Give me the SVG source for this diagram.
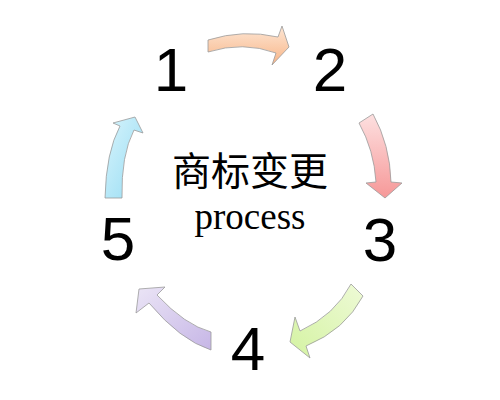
<svg xmlns="http://www.w3.org/2000/svg" width="500" height="400" viewBox="0 0 500 400">
<style>
.num{font-family:"Liberation Sans","DejaVu Sans",sans-serif;font-size:62px;fill:#000;text-anchor:middle}
.arrow{stroke:#9a9a9a;stroke-width:0.8;stroke-linejoin:round}
.cjk{font-family:"Noto Sans CJK SC","Noto Sans CJK JP",sans-serif;font-size:39px;fill:#000;text-anchor:middle}
.en{font-family:"Liberation Serif","DejaVu Serif",serif;font-size:37px;fill:#000;text-anchor:middle}
</style>
<defs>
<linearGradient id="gOrange" x1="0" y1="0" x2="0" y2="1"><stop offset="0" stop-color="#fde6d4"/><stop offset="1" stop-color="#f8b587"/></linearGradient>
<linearGradient id="gPink" x1="0" y1="0" x2="0" y2="1"><stop offset="0" stop-color="#fde0e0"/><stop offset="1" stop-color="#f69898"/></linearGradient>
<linearGradient id="gGreen" x1="1" y1="0" x2="0" y2="1"><stop offset="0" stop-color="#eefad6"/><stop offset="1" stop-color="#d4f3a2"/></linearGradient>
<linearGradient id="gPurple" x1="0" y1="0" x2="1" y2="1"><stop offset="0" stop-color="#ebe5f6"/><stop offset="1" stop-color="#c6b6e6"/></linearGradient>
<linearGradient id="gBlue" x1="0" y1="0" x2="1" y2="1"><stop offset="0" stop-color="#d8f4fc"/><stop offset="1" stop-color="#96dcf3"/></linearGradient>
</defs>
<g id="connectors">
<path id="arrow-1-2" class="arrow" fill="url(#gOrange)" d="M208,40 Q243,29 278,37 L282,26 L289,47 L272,65 L276,53 Q243,41 208,52 Z"/>
<path id="arrow-2-3" class="arrow" fill="url(#gPink)" d="M359,123 L373,114 Q390,145 391,182 L402,183 L385,198 L366,183 L376,182 Q374,150 359,123 Z"/>
<path id="arrow-3-4" class="arrow" fill="url(#gGreen)" d="M351,284 L363,296 Q345,330 306,346 L310,358 L290,342 L295,317 L300,331 Q335,315 351,284 Z"/>
<path id="arrow-4-5" class="arrow" fill="url(#gPurple)" d="M211,332 L211,350 Q180,340 149,303 L136,313 L139,289 L165,287 L157,295 Q185,325 211,332 Z"/>
<path id="arrow-5-1" class="arrow" fill="url(#gBlue)" d="M105,198 Q106,152 120,126 L113,123 L135,117 L143,133 L134,130 Q121,155 122,198 Z"/>
</g>
<g id="node-1"><text class="num" x="171" y="91">1</text></g>
<g id="node-2"><text class="num" x="330" y="91">2</text></g>
<g id="node-3"><text class="num" x="380" y="261">3</text></g>
<g id="node-4"><text class="num" x="248" y="370">4</text></g>
<g id="node-5"><text class="num" x="118" y="260">5</text></g>
<g id="center">
<text class="cjk" x="250" y="185">商标变更</text>
<text class="en" x="250" y="229">process</text>
</g>
</svg>
